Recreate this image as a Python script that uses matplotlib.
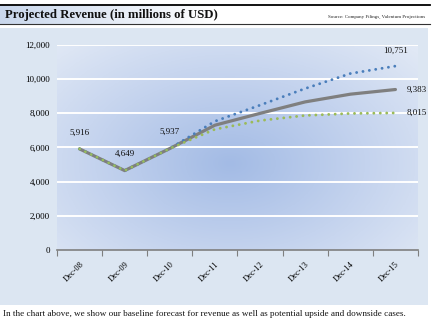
import numpy as np
import matplotlib
matplotlib.use("Agg")
import matplotlib.pyplot as plt
from matplotlib.colors import LinearSegmentedColormap

# Revenue series (millions of USD)
periods = ["Dec-08", "Dec-09", "Dec-10", "Dec-11", "Dec-12", "Dec-13", "Dec-14", "Dec-15"]
base_case = [5916, 4649, 5937, 7300, 7990, 8660, 9110, 9383]
upside_case = [5916, 4649, 5937, 7530, 8470, 9440, 10315, 10751]
downside_case = [5916, 4649, 5937, 7060, 7570, 7866, 7985, 8015]
y_ticks = [0, 2000, 4000, 6000, 8000, 10000, 12000]

title = "Projected Revenue (in millions of USD)"
source = "Source: Company Filings, Valentum Projections"
caption = ("In the chart above, we show our baseline forecast for revenue "
           "as well as potential upside and downside cases.")

W, H = 439, 322
fig = plt.figure(figsize=(W / 100, H / 100), dpi=100)
fig.patch.set_facecolor("white")
serif = ["Liberation Serif", "DejaVu Serif"]

def fx(px):
    return px / W

def fy(py):
    return 1 - py / H

# chart background panel
bg = fig.add_axes([0, fy(305), fx(428), fy(28) - fy(305)])
bg.set_facecolor("#dce6f2")
bg.set_xticks([]); bg.set_yticks([])
for s in bg.spines.values():
    s.set_visible(False)

# header band with soft blue fade
hdr = fig.add_axes([0, fy(24), fx(430), fy(5) - fy(24)])
grad = np.linspace(0, 1, 256).reshape(1, -1)
hcmap = LinearSegmentedColormap.from_list("hdr", ["#c9d7ec", "#ffffff", "#ffffff"])
hdr.imshow(grad, aspect="auto", cmap=hcmap, extent=[0, 1, 0, 1])
hdr.set_xlim(0, 1); hdr.set_ylim(0, 1)
hdr.set_xticks([]); hdr.set_yticks([])
for s in hdr.spines.values():
    s.set_visible(False)
hdr.axhline(1, color="black", lw=1.3, clip_on=False)
hdr.axhline(0, color="#333333", lw=0.8, clip_on=False)
hdr.text(0.012, 0.45, title, fontsize=9.2, fontweight="bold", family=serif,
         ha="left", va="center", color="#111111")
hdr.text(0.988, 0.38, source, fontsize=3.6, family=serif,
         ha="right", va="center", color="#222222")

# plot area
ax = fig.add_axes([fx(57), fy(250.2), fx(418) - fx(57), fy(44.7) - fy(250.2)])
ax.set_xlim(0, len(periods))
ax.set_ylim(0, 12000)

# radial blue gradient inside the plot area
gx, gy = np.meshgrid(np.linspace(0, 1, 300), np.linspace(0, 1, 220))
r = np.sqrt(((gx - 0.48) / 0.75) ** 2 + ((gy - 0.42) / 0.85) ** 2)
r = np.clip(r, 0, 1)
pcmap = LinearSegmentedColormap.from_list("plot", ["#a3bbe5", "#c4d3ee", "#e4ebf6"])
ax.imshow(r, cmap=pcmap, aspect="auto", origin="lower",
          extent=[0, len(periods), 0, 12000], zorder=0, vmin=0, vmax=1)

for yv in y_ticks[1:]:
    ax.axhline(yv, color="white", lw=1.4, zorder=1)

for s in ["top", "right", "left"]:
    ax.spines[s].set_visible(False)
ax.spines["bottom"].set_color("#7f7f7f")
ax.spines["bottom"].set_linewidth(1.2)
ax.spines["bottom"].set_zorder(2)

x = np.arange(len(periods)) + 0.5
ax.plot(x, base_case, color="#7f7f7f", lw=2.3, solid_capstyle="round", zorder=3)
ax.plot(x, upside_case, color="#4a7ebb", lw=2.1, linestyle=(0, (0.01, 2.2)),
        dash_capstyle="round", zorder=4)
ax.plot(x, downside_case, color="#9bbb59", lw=2.1, linestyle=(0, (0.01, 2.2)),
        dash_capstyle="round", zorder=5)

ax.set_yticks(y_ticks)
ax.set_yticklabels([f"{v:,}" for v in y_ticks], fontsize=6.5, family=serif)
ax.tick_params(axis="y", length=0, pad=5)

ax.set_xticks(np.arange(len(periods) + 1))
ax.set_xticklabels([])
ax.tick_params(axis="x", which="major", length=4, color="#7f7f7f", width=0.8)
ax.set_xticks(x, minor=True)
ax.set_xticklabels(periods, minor=True, rotation=45, ha="right", va="top",
                   rotation_mode="anchor", fontsize=6, family=serif)
ax.tick_params(axis="x", which="minor", length=0, pad=7)

# value labels
lab = dict(fontsize=6.5, family=serif, color="#111111", zorder=6)
for i in range(3):
    ax.annotate(f"{base_case[i]:,}", (x[i], base_case[i]), xytext=(0, 9),
                textcoords="offset points", ha="center", va="bottom", **lab)
ax.annotate(f"{upside_case[-1]:,}", (x[-1], upside_case[-1]), xytext=(0, 8),
            textcoords="offset points", ha="center", va="bottom", **lab)
ax.annotate(f"{base_case[-1]:,}", (x[-1], base_case[-1]), xytext=(8, 0),
            textcoords="offset points", ha="left", va="center", **lab)
ax.annotate(f"{downside_case[-1]:,}", (x[-1], downside_case[-1]), xytext=(8, 0),
            textcoords="offset points", ha="left", va="center", **lab)

fig.text(fx(3), fy(313.5), caption, fontsize=6.55, family=serif,
         ha="left", va="center", color="#111111")

fig.savefig("out.png", dpi=100)
